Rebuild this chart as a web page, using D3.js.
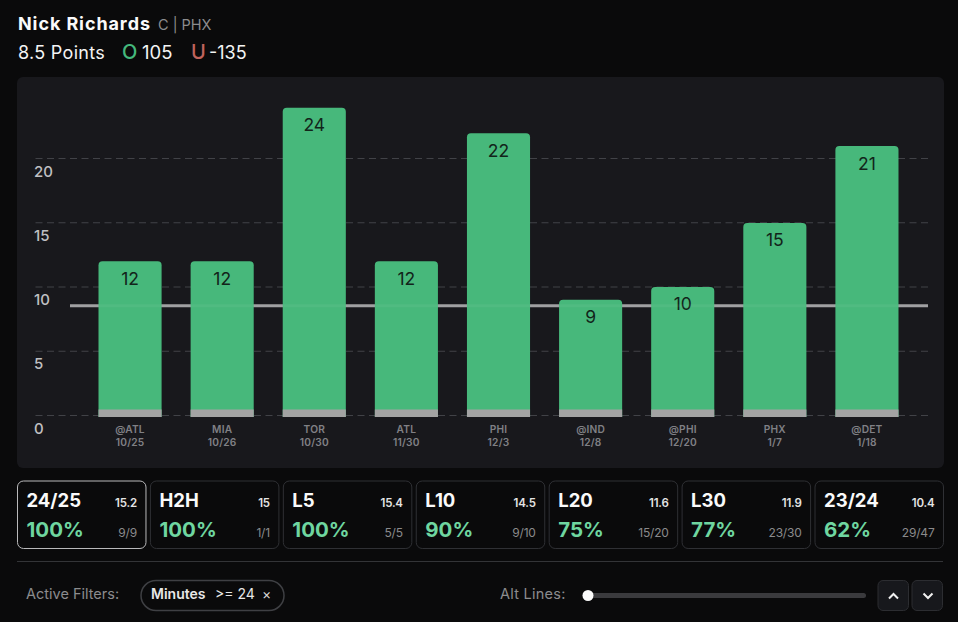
<!DOCTYPE html>
<html>
<head>
<meta charset="utf-8">
<script src="https://cdn.jsdelivr.net/npm/d3@7"></script>
<style>
  html, body { margin: 0; padding: 0; background: #0a0a0b; overflow: hidden; }
  svg { display: block; }
  text { font-family: Inter, "Noto Sans", sans-serif; }
</style>
</head>
<body>
<div id="chart"></div>
<script>
const opponents = ['@ATL', 'MIA', 'TOR', 'ATL', 'PHI', '@IND', '@PHI', 'PHX', '@DET'];
const dates = ['10/25', '10/26', '10/30', '11/30', '12/3', '12/8', '12/20', '1/7', '1/18'];
const points = [12, 12, 24, 12, 22, 9, 10, 15, 21];
const yTicks = [0, 5, 10, 15, 20];
const propLine = 8.5;

const cardNames = ['24/25', 'H2H', 'L5', 'L10', 'L20', 'L30', '23/24'];
const cardAvgs = ['15.2', '15', '15.4', '14.5', '11.6', '11.9', '10.4'];
const cardPcts = ['100%', '100%', '100%', '90%', '75%', '77%', '62%'];
const cardRecords = ['9/9', '1/1', '5/5', '9/10', '15/20', '23/30', '29/47'];

const width = 958, height = 622;
const GREEN = '#47b87b', GREY = '#a3a3a3', WHITE = '#f4f4f4', MUTED = '#8c8c8e';

const svg = d3.select('#chart').append('svg')
  .attr('width', width)
  .attr('height', height)
  .style('background-color', '#0a0a0b');

const label = function(x, y, str, size, weight, fill, spacing) {
  return svg.append('text')
    .attr('x', x).attr('y', y)
    .attr('font-size', size)
    .attr('font-weight', weight)
    .attr('fill', fill)
    .attr('letter-spacing', spacing || 0)
    .text(str);
};

// header
label(18, 30, 'Nick Richards', 18, 700, '#fafafa', 0.9);
label(158, 30, 'C | PHX', 14.5, 400, MUTED);
label(18, 59, '8.5 Points', 18, 400, WHITE, 0.3);
label(122, 59, 'O', 20, 500, '#44b87c');
label(142, 59, '105', 18.5, 400, WHITE);
label(191, 59, 'U', 20, 500, '#c0635c');
label(209, 59, '-135', 18, 400, WHITE);

// chart panel
svg.append('rect')
  .attr('x', 17).attr('y', 77)
  .attr('width', 927).attr('height', 391)
  .attr('rx', 6)
  .attr('fill', '#18181c');

const x = d3.scaleBand()
  .domain(d3.range(points.length))
  .range([84, 913])
  .paddingInner(0.315)
  .paddingOuter(0.1575);

// grid sits a touch off the bar scale in the picture
const y = d3.scaleLinear().domain([0, 20]).range([415, 158]);
const barY = d3.scaleLinear().domain([0, 24]).range([415, 107.7]);

const gridGroup = svg.append('g')
  .attr('transform', 'translate(928,0)')
  .call(d3.axisRight(y).tickValues(yTicks).tickSize(-895).tickFormat(''));
gridGroup.select('.domain').remove();
gridGroup.selectAll('line')
  .attr('stroke', '#414247')
  .attr('stroke-width', 1)
  .attr('stroke-dasharray', '7 4.5');

const axisGroup = svg.append('g').attr('transform', 'translate(34,0)')
  .call(d3.axisRight(y).tickValues(yTicks).tickSize(0).tickPadding(0));
axisGroup.select('.domain').remove();
axisGroup.selectAll('text')
  .attr('dy', 18)
  .attr('font-size', 15)
  .attr('font-weight', 500)
  .attr('font-family', 'Inter, sans-serif')
  .attr('fill', '#c0c0c2');

// prop line runs behind the bars
svg.append('line')
  .attr('x1', 70).attr('x2', 928)
  .attr('y1', y(propLine)).attr('y2', y(propLine))
  .attr('stroke', '#a0a0a2')
  .attr('stroke-width', 3);

const bars = svg.append('g').selectAll('g')
  .data(points)
  .join('g');

bars.append('path')
  .attr('fill', GREEN)
  .attr('d', function(d, i) {
    const r = 4, x0 = x(i), x1 = x(i) + x.bandwidth(), top = barY(d), bottom = barY(0) + 2;
    return `M${x0},${bottom}V${top + r}Q${x0},${top} ${x0 + r},${top}H${x1 - r}Q${x1},${top} ${x1},${top + r}V${bottom}Z`;
  });

// grey foot of every bar
bars.append('rect')
  .attr('x', (d, i) => x(i))
  .attr('y', barY(0) - 5.5)
  .attr('width', x.bandwidth())
  .attr('height', 7.5)
  .attr('fill', GREY);

// faint trace of the prop line through the bars
svg.append('g').selectAll('rect')
  .data(points)
  .join('rect')
  .attr('x', (d, i) => x(i))
  .attr('y', y(propLine) - 1.5)
  .attr('width', x.bandwidth())
  .attr('height', 3)
  .attr('fill', '#ffffff')
  .attr('opacity', 0.05);

bars.append('text')
  .attr('x', (d, i) => x(i) + x.bandwidth() / 2)
  .attr('y', d => barY(d) + 23.5)
  .attr('text-anchor', 'middle')
  .attr('font-size', 17.5)
  .attr('fill', '#12241a')
  .text(d => d);

// x labels, two lines each
const xLabelGroup = svg.append('g')
  .attr('text-anchor', 'middle')
  .attr('font-size', 10.2)
  .attr('font-weight', 600)
  .attr('letter-spacing', 0.2)
  .attr('fill', '#808085');
xLabelGroup.selectAll('text.opp')
  .data(opponents)
  .join('text')
  .attr('class', 'opp')
  .attr('x', (d, i) => x(i) + x.bandwidth() / 2)
  .attr('y', 433.2)
  .text(d => d);
xLabelGroup.selectAll('text.date')
  .data(dates)
  .join('text')
  .attr('class', 'date')
  .attr('x', (d, i) => x(i) + x.bandwidth() / 2)
  .attr('y', 445.7)
  .text(d => d);

// split cards
const cardX = d3.scaleBand()
  .domain(d3.range(cardNames.length))
  .range([17.5, 943.5])
  .paddingInner(0.0335)
  .paddingOuter(0);

const cards = svg.append('g').selectAll('g')
  .data(cardNames)
  .join('g')
  .attr('transform', (d, i) => `translate(${cardX(i)},481)`);

cards.append('rect')
  .attr('width', cardX.bandwidth())
  .attr('height', 67.5)
  .attr('rx', 6)
  .attr('fill', '#0a0a0b')
  .attr('stroke', (d, i) => i === 0 ? '#b9b9bb' : '#2f3034')
  .attr('stroke-width', 1);

cards.append('text')
  .attr('x', 9).attr('y', 25.5)
  .attr('font-size', 18.5).attr('font-weight', 700)
  .attr('fill', '#fafafa')
  .text(d => d);
cards.append('text')
  .attr('x', cardX.bandwidth() - 9).attr('y', 26)
  .attr('text-anchor', 'end')
  .attr('font-size', 11.5).attr('font-weight', 600)
  .attr('letter-spacing', -0.2)
  .attr('fill', '#e4e4e4')
  .text((d, i) => cardAvgs[i]);
cards.append('text')
  .attr('x', 9).attr('y', 56)
  .attr('font-size', 20.5).attr('font-weight', 700)
  .attr('fill', '#6fd6a0')
  .text((d, i) => cardPcts[i]);
cards.append('text')
  .attr('x', cardX.bandwidth() - 9).attr('y', 56)
  .attr('text-anchor', 'end')
  .attr('font-size', 12)
  .attr('letter-spacing', -0.2)
  .attr('fill', '#8a8a8c')
  .text((d, i) => cardRecords[i]);

svg.append('line')
  .attr('x1', 17).attr('x2', 943)
  .attr('y1', 561.5).attr('y2', 561.5)
  .attr('stroke', '#333437');

// footer
label(26, 599, 'Active Filters:', 14.5, 400, MUTED);
svg.append('rect')
  .attr('x', 141).attr('y', 580.5)
  .attr('width', 143).attr('height', 30)
  .attr('rx', 15)
  .attr('fill', '#0a0a0b')
  .attr('stroke', '#3f4044')
  .attr('stroke-width', 1.5);
label(151, 599, 'Minutes', 14, 600, '#e8e8e8');
label(215, 599, '>= 24', 14, 400, '#e8e8e8');
label(262, 599, '×', 14, 400, '#d8d8d8');

label(500, 599, 'Alt Lines:', 14.5, 400, MUTED, 0.25);
svg.append('rect')
  .attr('x', 584).attr('y', 593)
  .attr('width', 282).attr('height', 5)
  .attr('rx', 2.5)
  .attr('fill', '#3a3a3d');
svg.append('circle')
  .attr('cx', 588).attr('cy', 595.5).attr('r', 5.5)
  .attr('fill', '#fafafa');

// stepper buttons
const stepX = [878, 912];
const chevrons = ['M889,598.5l4.5,-4.5l4.5,4.5', 'M923.5,593.5l4.5,4.5l4.5,-4.5'];
svg.append('g').selectAll('rect')
  .data(stepX)
  .join('rect')
  .attr('x', d => d).attr('y', 580.5)
  .attr('width', 30.5).attr('height', 30)
  .attr('rx', 5)
  .attr('fill', '#17181c')
  .attr('stroke', '#2c2d31');
svg.append('g').selectAll('path')
  .data(chevrons)
  .join('path')
  .attr('d', d => d)
  .attr('fill', 'none')
  .attr('stroke', '#f0f0f0')
  .attr('stroke-width', 2);
</script>
</body>
</html>
